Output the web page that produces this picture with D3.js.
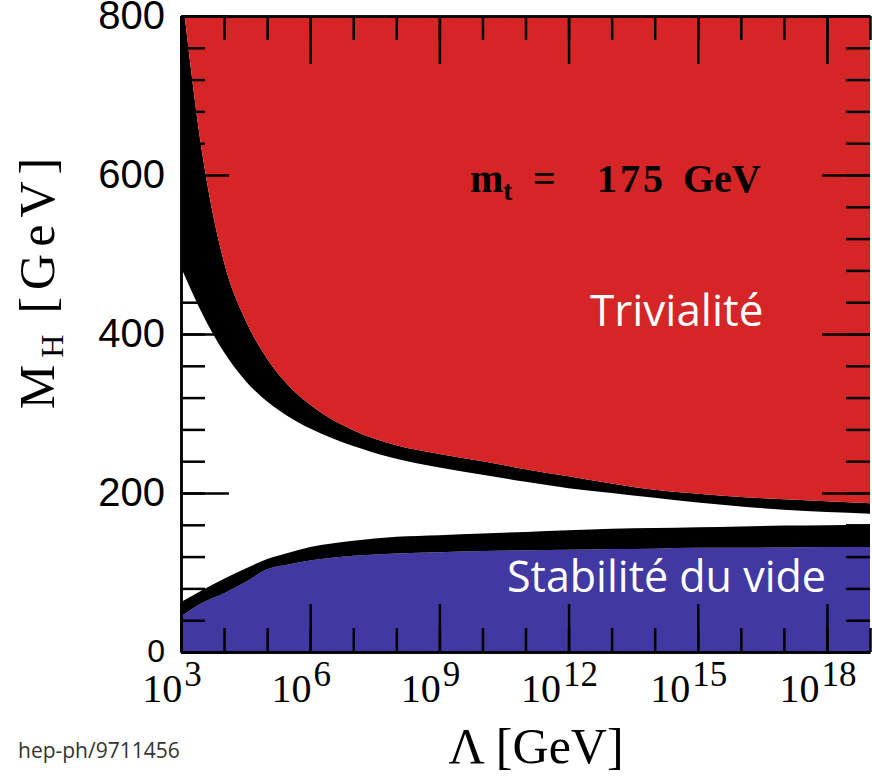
<!DOCTYPE html>
<html>
<head>
<meta charset="utf-8">
<script src="https://cdn.jsdelivr.net/npm/d3@7"></script>
<style>
  body { margin: 0; background: #fff; }
  svg { display: block; }
  .tick line, .domain { stroke: #000; stroke-width: 2.5; }
</style>
</head>
<body>
<svg id="chart" width="872" height="778"></svg>
<script>
// exponents of Lambda (GeV)
var logLambda = [3, 3.5, 4, 4.5, 5, 5.5, 6, 7, 8, 9, 10, 11, 12, 13, 14, 15, 16, 17, 18, 19];
// triviality band (black), upper edge = start of red region
var trivHigh = [840, 625, 490, 417, 369, 335, 311, 279, 260, 249, 240, 230, 221, 212, 204, 199, 195, 192, 189.5, 187];
var trivLow  = [484, 425, 377, 341, 315, 296, 281, 259, 243, 232, 223, 214, 206, 200, 194, 188, 183, 179, 176, 174];
// vacuum stability band (black), lower edge = start of blue region
var stabHigh = [63, 78, 92, 105, 117, 125, 132, 140, 145, 147, 149, 151, 153, 155, 156, 157, 158, 159, 159.5, 160];
var stabLow  = [45, 62, 74, 88, 104, 110, 115, 121, 124, 125.5, 127, 128, 128.5, 129.5, 130, 131, 131, 131.5, 132, 132];

var yTicks = [0, 200, 400, 600, 800];
var xLabelExp = [3, 6, 9, 12, 15, 18];

var pLeft = 181, pRight = 870, pTop = 16, pBottom = 652;

var x = d3.scaleLog().domain([1e3, 1e19]).range([pLeft, pRight]);
var y = d3.scaleLinear().domain([0, 800]).range([pBottom, pTop]);

var svg = d3.select("#chart");

var rows = logLambda.map(function(e, i) {
  return {lam: Math.pow(10, e), th: trivHigh[i], tl: trivLow[i], sh: stabHigh[i], sl: stabLow[i]};
});

svg.append("clipPath").attr("id", "plot")
  .append("rect").attr("x", pLeft).attr("y", pTop).attr("width", pRight - pLeft).attr("height", pBottom - pTop);

var g = svg.append("g").attr("clip-path", "url(#plot)");

function band(lo, hi) {
  return d3.area().curve(d3.curveMonotoneX)
    .x(function(d) { return x(d.lam); })
    .y0(function(d) { return y(lo(d)); })
    .y1(function(d) { return y(hi(d)); });
}

// blue: vacuum stability excluded
g.append("path").datum(rows).attr("fill", "#4139a1")
  .attr("d", band(function() { return 0; }, function(d) { return d.sl; }));
g.append("path").datum(rows).attr("fill", "#000")
  .attr("d", band(function(d) { return d.sl; }, function(d) { return d.sh; }));
// red: triviality excluded
g.append("path").datum(rows).attr("fill", "#000")
  .attr("d", band(function(d) { return d.tl; }, function(d) { return d.th; }));
g.append("path").datum(rows).attr("fill", "#d62527")
  .attr("d", band(function(d) { return d.th; }, function() { return 900; }));

// ticks, all pointing inward
var decades = d3.range(3, 20).map(function(e) { return Math.pow(10, e); });
var majorX = xLabelExp.map(function(e) { return Math.pow(10, e); });
var minorY = d3.range(0, 801, 40);

function addAxis(axis, tx, ty) {
  return svg.append("g").attr("transform", "translate(" + tx + "," + ty + ")").call(axis);
}

addAxis(d3.axisBottom(x).tickValues(decades).tickSizeInner(-24).tickSizeOuter(0).tickFormat(""), 0, pBottom);
addAxis(d3.axisBottom(x).tickValues(majorX).tickSizeInner(-48).tickSizeOuter(0).tickFormat(""), 0, pBottom);
addAxis(d3.axisTop(x).tickValues(decades).tickSizeInner(-24).tickSizeOuter(0).tickFormat(""), 0, pTop);
addAxis(d3.axisTop(x).tickValues(majorX).tickSizeInner(-48).tickSizeOuter(0).tickFormat(""), 0, pTop);
addAxis(d3.axisLeft(y).tickValues(minorY).tickSizeInner(-24).tickSizeOuter(0).tickFormat(""), pLeft, 0);
var yl = addAxis(d3.axisLeft(y).tickValues(yTicks).tickSizeInner(-48).tickSizeOuter(0).tickPadding(16).tickFormat(d3.format("d")), pLeft, 0);
yl.attr("font-size", null).attr("font-family", null);
yl.selectAll("text").attr("font-family", "Liberation Sans, Arial, sans-serif").attr("font-size", 40).attr("fill", "#000");
// the "0" sits squeezed against the 10^3 label
yl.selectAll("text").filter(function(d) { return d === 0; }).attr("font-size", 32).attr("dy", "0.3em");
addAxis(d3.axisRight(y).tickValues(minorY).tickSizeInner(-24).tickSizeOuter(0).tickFormat(""), pRight, 0)
  .select(".domain").remove();
addAxis(d3.axisRight(y).tickValues(yTicks).tickSizeInner(-48).tickSizeOuter(0).tickFormat(""), pRight, 0)
  .select(".domain").remove();

// x labels 10^n
var xl = svg.append("g").attr("font-family", "Liberation Serif, Times New Roman, serif").attr("fill", "#000");
xLabelExp.forEach(function(e) {
  var t = xl.append("text").attr("x", x(Math.pow(10, e)) - 9).attr("y", 702).attr("text-anchor", "middle");
  t.append("tspan").attr("font-size", 40).text("10");
  t.append("tspan").attr("font-size", 35).attr("dy", -16).attr("dx", 2).text(e);
});

// axis titles
svg.append("text").attr("x", 536).attr("y", 763).attr("text-anchor", "middle")
  .attr("font-family", "Liberation Serif, Times New Roman, serif").attr("font-size", 50)
  .text("Λ [GeV]");

var yt = svg.append("text").attr("transform", "translate(54,280) rotate(-90)").attr("text-anchor", "middle")
  .attr("font-family", "Liberation Serif, Times New Roman, serif").attr("font-size", 50)
  .attr("letter-spacing", 7);
yt.append("tspan").text("M");
yt.append("tspan").attr("font-size", 32).attr("dy", 9).text("H");
yt.append("tspan").attr("dy", -9).attr("dx", 14).text("[GeV]");

// annotations
var mt = svg.append("text").attr("y", 192)
  .attr("font-family", "Liberation Serif, Times New Roman, serif").attr("font-size", 40).attr("font-weight", "bold");
mt.append("tspan").attr("x", 470).text("m");
mt.append("tspan").attr("font-size", 27).attr("dy", 8).text("t");
mt.append("tspan").attr("x", 533).attr("dy", -8).text("=");
mt.append("tspan").attr("x", 597).attr("letter-spacing", 3).text("175");
mt.append("tspan").attr("x", 683).text("GeV");

svg.append("text").attr("x", 590).attr("y", 326).attr("fill", "#fff")
  .attr("font-family", "Open Sans, sans-serif").attr("font-size", 44).text("Trivialité");
svg.append("text").attr("x", 507).attr("y", 592).attr("fill", "#fff")
  .attr("font-family", "Open Sans, sans-serif").attr("font-size", 43).text("Stabilité du vide");

svg.append("text").attr("x", 18).attr("y", 758).attr("fill", "#333")
  .attr("font-family", "Open Sans, sans-serif").attr("font-size", 21).text("hep-ph/9711456");
</script>
</body>
</html>
